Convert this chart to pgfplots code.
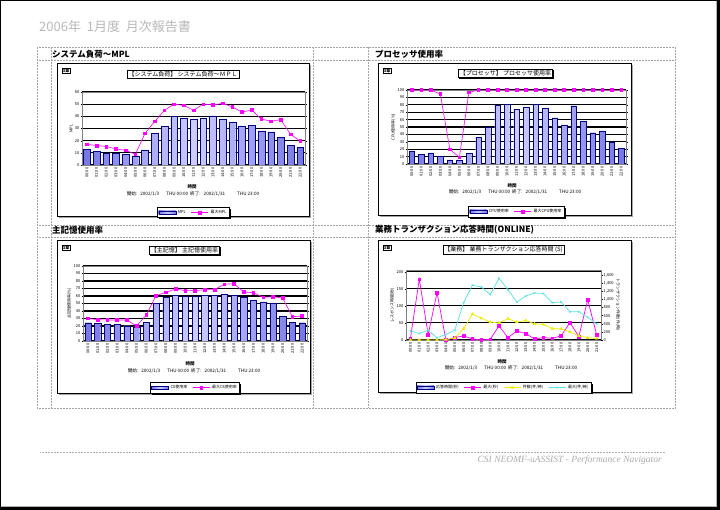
\documentclass[border=0pt]{standalone}
\usepackage{fontspec}
\setmainfont{Noto Sans CJK JP}
\newfontfamily\footfont{Liberation Serif}
\usepackage{pgfplots}
\usepackage{pgfplotstable}
\pgfplotsset{compat=1.18}
\usetikzlibrary{shadows}
\definecolor{barfill}{RGB}{153,153,255}
\definecolor{bardark}{RGB}{118,118,228}
\definecolor{barlight}{RGB}{205,205,255}
\definecolor{barline}{RGB}{0,0,128}
\definecolor{mag}{RGB}{255,0,255}
\definecolor{cyanl}{RGB}{90,225,225}
\definecolor{yel}{RGB}{240,235,0}
\definecolor{pgtitle}{RGB}{185,185,185}

\pgfplotstableread{
x bar line
0 13 17
1 11 16
2 9.6 15.2
3 9.6 13.2
4 8.8 12.1
5 7.4 8.8
6 12.4 26
7 26 35.8
8 31.7 44.9
9 40 50
10 38.6 49
11 37.5 45
12 38.6 50
13 40.5 49.3
14 38 50.7
15 35.5 47.7
16 32.2 43.5
17 32.8 45.2
18 28 37.7
19 27.3 36
20 22.9 37.2
21 16 25.3
22 14.3 19.6
}\mpl

\pgfplotstableread{
x bar line
0 17.6 99.8
1 13 99.8
2 14.9 99.8
3 10.4 94.6
4 5.4 19.8
5 5.4 9
6 14.4 96.8
7 36 99.8
8 49.5 99.8
9 79.7 99.8
10 81 99.8
11 74.3 99.8
12 76.6 99.8
13 81 99.8
14 76 99.8
15 62.6 99.8
16 52.7 99.8
17 78.8 99.8
18 58 99.8
19 42.3 99.8
20 44.6 99.8
21 29.7 99.8
22 21 99.8
}\cpu

\pgfplotstableread{
x bar line
0 24.4 30.2
1 23.6 28.4
2 22.2 28
3 22.2 28
4 20.4 28
5 19.1 20
6 25.3 34.7
7 50.2 60.4
8 58.2 64.9
9 60.9 69.3
10 59.6 67.1
11 59.6 67.1
12 60.9 68.4
13 60.9 68.4
14 62.2 75.6
15 60.9 76.4
16 58.2 65.3
17 54.7 64.4
18 52 58.2
19 50.7 59.1
20 32.9 57.3
21 25.3 32.4
22 24.4 33.3
}\mem

\pgfplotstableread{
x resp maxresp cnt maxcnt
0 0.3 5 0 224
1 0.3 178 0 160
2 0.3 16 0 240
3 0.3 138 0 56
4 0.3 0 10 136
5 0.3 7 48 240
6 0.3 12 278 918
7 0.3 3 638 1350
8 0.3 0 535 1302
9 0.3 2 439 1118
10 0.3 41 422 1518
11 0.3 7 525 1240
12 0.3 26 439 935
13 0.3 19 480 1079
14 0.3 3 398 1158
15 0.3 7 384 1142
16 0.3 5 278 918
17 0.3 12 278 935
18 0.3 51 199 695
19 0.3 10 103 695
20 0.3 118 55 559
21 0.3 16 38 398
}\trn

\newcommand{\tinyf}{\fontsize{4}{4.5}\selectfont}
\newcommand{\period}{開始:\hspace{3pt}2002/1/3\hspace{7pt}THU\ 00:00\hspace{2pt}終了:\hspace{3pt}2002/1/31\hspace{12pt}THU\ 23:00}

\pgfplotsset{
  chart/.style={
    scale only axis, anchor=south west,
    xmin=-0.5, xmax=22.5,
    xtick={0,...,22},
    xticklabels={00:00,01:00,02:00,03:00,04:00,05:00,06:00,07:00,08:00,09:00,10:00,11:00,12:00,13:00,14:00,15:00,16:00,17:00,18:00,19:00,20:00,21:00,22:00},
    x tick label style={rotate=90, anchor=east, font=\tinyf, inner sep=1pt},
    y tick label style={font=\tinyf, inner sep=1pt},
    ylabel style={font=\tinyf, inner sep=1pt},
    xtick style={draw=none},
    ytick style={black, line width=0.3pt},
    major tick length=1.5pt,
    tick align=outside,
    ymajorgrids, major grid style={black, line width=1.1pt},
    axis line style={gray, line width=0.6pt},
    /pgf/number format/assume math mode=true,
    ymin=0,
    legend columns=-1,
    legend style={font=\tinyf, draw=black, line width=0.6pt, inner sep=0.8pt,
      fill=white, anchor=north,
      /tikz/every even column/.append style={column sep=3pt}},
  },
  bars/.style={ybar, bar shift=0pt, draw=barline, line width=0.3pt,
    /tikz/left color=bardark, /tikz/right color=bardark, /tikz/middle color=barlight,
    legend image code/.code={\draw[left color=bardark, right color=bardark, middle color=barlight, draw=barline, line width=0.3pt] (0cm,-0.06cm) rectangle (0.6cm,0.06cm);}},
  mline/.style={mag, line width=0.6pt, mark=square*, mark size=1.35pt, mark options={fill=mag, draw=mag}},
}
\newcommand{\legshadow}[1]{\draw[black, line width=1.3pt] ([shift={(1.6pt,-0.65pt)}]#1.south west) -- ([shift={(0.65pt,-0.65pt)}]#1.south east) -- ([shift={(0.65pt,-1.6pt)}]#1.north east);}

\begin{document}
\begin{tikzpicture}[x=1pt,y=1pt]
\useasboundingbox (0pt,0pt) rectangle (720pt,510pt);
\fill[white] (0pt,0pt) rectangle (720pt,510pt);
% outer frame
\draw[black, line width=1pt] (0.5,2.5) rectangle (717.5,509.5);
\fill[black] (717,0) rectangle (720,510);
\fill[black] (0,0) rectangle (720,2.5);
\draw[gray!60, line width=0.6pt] (716.2,3) -- (716.2,509);
\draw[gray!60, line width=0.6pt] (1,3.8) -- (716,3.8);

% page title
\node[anchor=west, text=pgtitle, font=\fontsize{13}{14}\selectfont, inner sep=0] at (39,483) {2006年\ \ 1月度\ \ 月次報告書};

% table dotted lines
\begin{scope}[gray!70, line width=0.5pt, densely dotted]
\draw (37,463) -- (675,463);
\draw (37,450) -- (675,450);
\draw (37,285) -- (675,285);
\draw (37,273) -- (675,273);
\draw (37,102) -- (675,102);
\draw (37,463) -- (37,102);
\draw (51,463) -- (51,102);
\draw (313,463) -- (313,102);
\draw (368,463) -- (368,102);
\draw (675,463) -- (675,102);
\end{scope}

% section headings
\begin{scope}[font=\fontsize{8.5}{9}\selectfont\bfseries]
\node[anchor=west, inner sep=0] at (52,456) {システム負荷～MPL};
\node[anchor=west, inner sep=0] at (375,456) {プロセッサ使用率};
\node[anchor=west, inner sep=0] at (52,280) {主記憶使用率};
\node[anchor=west, inner sep=0] at (375,280) {業務トランザクション応答時間(ONLINE)};
\end{scope}

% chart frames
\foreach \xa/\ya/\xb/\yb in {57/294/309/447, 378/295/631/447, 57/117/310/270, 378/118/631/270}{
  \fill[gray!70] (\xa+2,\ya-2) rectangle (\xb+2,\yb-2);
  \filldraw[fill=white, draw=black, line width=0.8pt] (\xa,\ya) rectangle (\xb,\yb);
  \node[draw=black, line width=0.4pt, font=\fontsize{4}{4.5}\selectfont\bfseries, inner sep=0.7pt, anchor=north west, fill=white] at (\xa+5,\yb-5) {3章};
}

% chart titles
\begin{scope}[every node/.style={draw=black, line width=0.5pt, fill=white, font=\fontsize{6}{7}\selectfont, inner sep=1.4pt, drop shadow={shadow xshift=1pt, shadow yshift=-1pt, fill=black, opacity=1}}]
\node at (183,436) {【システム負荷】\ システム負荷～ＭＰＬ};
\node at (505.5,436.5) {【プロセッサ】\ プロセッサ使用率};
\node at (184.5,259.5) {【主記憶】\ 主記憶使用率};
\node at (503.5,260.5) {【業務】\ 業務トランザクション応答時間 (S)};
\end{scope}

% x titles and period text
\begin{scope}[font=\fontsize{4.6}{5}\selectfont, inner sep=0]
\node[font=\fontsize{4.5}{5}\selectfont\bfseries] at (192,323) {時間};
\node at (193,316) {\period};
\node[font=\fontsize{4.5}{5}\selectfont\bfseries] at (512,324) {時間};
\node at (515,318) {\period};
\node[font=\fontsize{4.5}{5}\selectfont\bfseries] at (190,146) {時間};
\node at (194,139) {\period};
\node[font=\fontsize{4.5}{5}\selectfont\bfseries] at (502,148) {時間};
\node at (511,142) {\period};
\end{scope}

% chart 1
\begin{axis}[chart, at={(82pt,345pt)}, width=223pt, height=73pt,
  ymax=60, ytick={0,10,...,60}, ylabel={MPL},
  legend style={at={(0.5,-0.575)}, name=LA}]
\addplot[bars, bar width=0.7] table[x=x, y=bar] {\mpl};
\addlegendentry{MPL}
\addplot[mline] table[x=x, y=line] {\mpl};
\addlegendentry{最大MPL}
\end{axis}
\legshadow{LA}

% chart 2
\begin{axis}[chart, at={(407pt,346pt)}, width=219pt, height=74pt,
  ymax=100, ytick={0,10,...,100}, ylabel={CPU使用率(\%)},
  legend style={at={(0.5,-0.57)}, name=LB}]
\addplot[bars, bar width=0.58] table[x=x, y=bar] {\cpu};
\addlegendentry{CPU使用率}
\addplot[mline] table[x=x, y=line] {\cpu};
\addlegendentry{最大CPU使用率}
\end{axis}
\legshadow{LB}

% chart 3
\begin{axis}[chart, at={(83pt,169pt)}, width=224pt, height=75pt,
  ymax=100, ytick={0,10,...,100}, ylabel={主記憶使用率(\%)},
  legend style={at={(0.5,-0.55)}, name=LC}]
\addplot[bars, bar width=0.64] table[x=x, y=bar] {\mem};
\addlegendentry{CS使用率}
\addplot[mline] table[x=x, y=line] {\mem};
\addlegendentry{最大CS使用率}
\end{axis}
\legshadow{LC}

% chart 4 (left axis)
\begin{axis}[chart, at={(406pt,170pt)}, width=195pt, height=70pt,
  xmin=-0.5, xmax=21.5, xtick={0,...,21},
  ymax=205, ytick={0,50,...,200}, ylabel={レスポンス時間(秒)},
  axis y line*=left]
\addplot[bars, bar width=0.6] table[x=x, y=resp] {\trn};
\addplot[mline, line width=0.7pt] table[x=x, y=maxresp] {\trn};
\end{axis}
% chart 4 (right axis)
\begin{axis}[chart, at={(406pt,170pt)}, width=195pt, height=70pt,
  xmin=-0.5, xmax=21.5, xtick=\empty, ymajorgrids=false,
  axis x line=none, axis y line*=right,
  ymax=1722, ytick={0,200,...,1600},
  /pgf/number format/1000 sep={,},
  ylabel={トランザクション件数(件/時)}, ylabel style={rotate=180},
  legend style={at={(0.5,-0.6)}, name=LD}]
\addlegendimage{bars}
\addlegendentry{応答時間(秒)}
\addlegendimage{mline}
\addlegendentry{最大(秒)}
\addplot[yel, line width=0.7pt, mark=triangle*, mark size=1.3pt, mark options={fill=yel}] table[x=x, y=cnt] {\trn};
\addlegendentry{件数(件/時)}
\addplot[cyanl, line width=0.7pt, mark=x, mark size=1pt] table[x=x, y=maxcnt] {\trn};
\addlegendentry{最大(件/時)}
\end{axis}
\legshadow{LD}

% footer
\draw[gray!60, densely dotted, line width=0.5pt] (40,58) -- (665,58);
\node[anchor=east, text=gray!65, font=\footfont\itshape\fontsize{9.5}{10}\selectfont, inner sep=0] at (662,50) {CSI NEOMF-uASSIST - Performance Navigator};
\end{tikzpicture}
\end{document}
